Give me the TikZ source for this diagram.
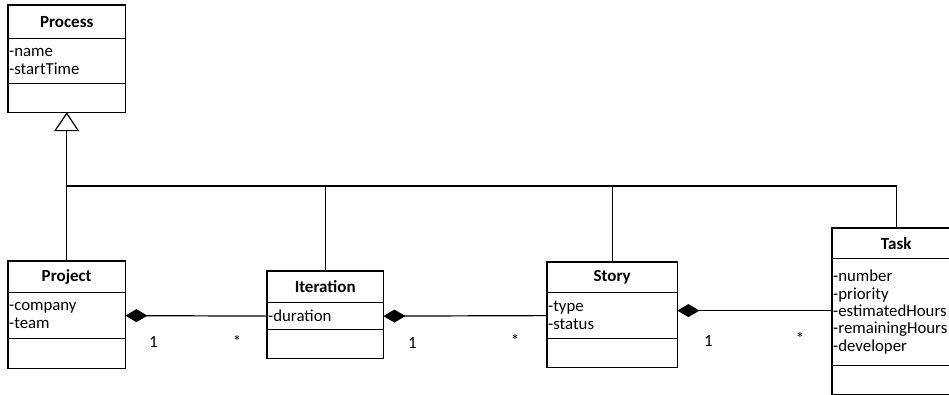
\documentclass[tikz,border=0pt]{standalone}
\usepackage{fontspec}
\setmainfont{Carlito}
\usetikzlibrary{arrows.meta,positioning}
\tikzset{
  >=Latex,
  classname/.style={anchor=north west,align=center,inner sep=1pt,
    font=\fontsize{17}{18}\selectfont\bfseries},
  classattr/.style={anchor=north west,align=left,inner sep=1pt,
    font=\fontsize{16.8}{18}\selectfont},
  classops/.style={anchor=north west,inner sep=0pt},
  classframe/.style={line width=1.2pt},
  inherit/.style={-{Triangle[open,fill=white,length=19pt,width=25pt]},line width=1.2pt},
  busline/.style={line width=1.2pt},
  compose/.style={{Diamond[length=22pt,width=13pt]}-,line width=1.2pt},
  mult/.style={font=\fontsize{17}{18}\selectfont,anchor=base,inner sep=0pt}
}
\begin{document}
\begin{tikzpicture}[x=1pt,y=-1pt]
  \useasboundingbox[fill=white] (0,0) rectangle (949,394);
  \clip (0,0) rectangle (949,394);

  \node[classname,text width=115pt,minimum height=33pt] (process) at (8,5) {Process};
  \node[classattr,text width=115pt,minimum height=45pt] (process-attr) at (process.south west) {-name\\-startTime};
  \node[classops,minimum width=117pt,minimum height=28pt] (process-ops) at (process-attr.south west) {};

  \node[classname,text width=115pt,minimum height=31pt] (project) at (8,261) {Project};
  \node[classattr,text width=115pt,minimum height=46pt] (project-attr) at (project.south west) {-company\\-team};
  \node[classops,minimum width=117pt,minimum height=29pt] (project-ops) at (project-attr.south west) {};

  \node[classname,text width=114pt,minimum height=31pt] (iteration) at (267,271) {Iteration};
  \node[classattr,text width=114pt,minimum height=27pt] (iteration-attr) at (iteration.south west) {-duration};
  \node[classops,minimum width=116pt,minimum height=28pt] (iteration-ops) at (iteration-attr.south west) {};

  \node[classname,text width=128pt,minimum height=30pt] (story) at (547,262) {Story};
  \node[classattr,text width=128pt,minimum height=46pt] (story-attr) at (story.south west) {-type\\-status};
  \node[classops,minimum width=130pt,minimum height=28pt] (story-ops) at (story-attr.south west) {};

  \node[classname,text width=126pt,minimum height=30pt] (task) at (832,228) {Task};
  \node[classattr,text width=126pt,minimum height=107pt,font=\fontsize{16.8}{17.4}\selectfont] (task-attr) at (task.south west) {-number\\-priority\\-estimatedHours\\-remainingHours\\-developer};
  \node[classops,minimum width=128pt,minimum height=28pt] (task-ops) at (task-attr.south west) {};

  \foreach \c in {process,project,iteration,story,task} {
    \draw[classframe] (\c.north west) rectangle (\c-ops.south east);
    \draw[classframe] (\c-attr.north west) -- (\c-attr.north east);
    \draw[classframe] (\c-attr.south west) -- (\c-attr.south east);
  }

  \draw[inherit] (project.north) -- (process-ops.south);
  \coordinate (bus) at (66.5,186);
  \draw[busline] (iteration.north) |- (bus);
  \draw[busline] (story.north) |- (bus);
  \draw[busline] (task.north) |- (bus);

  \draw[compose] (project-attr.east) -- node[mult,at start,xshift=28pt,yshift=-32pt] {1}
    node[mult,at end,xshift=-30pt,yshift=-31pt] {*} (iteration-attr.west);
  \draw[compose] (iteration-attr.east) -- node[mult,at start,xshift=29pt,yshift=-32pt] {1}
    node[mult,at end,xshift=-32pt,yshift=-31pt] {*} (story-attr.west);
  \draw[compose] ([yshift=5pt]story-attr.east) -- node[mult,at start,xshift=31pt,yshift=-36pt] {1}
    node[mult,at end,xshift=-32pt,yshift=-34pt] {*} ([yshift=5pt]story-attr.east -| task-attr.west);
\end{tikzpicture}
\end{document}
